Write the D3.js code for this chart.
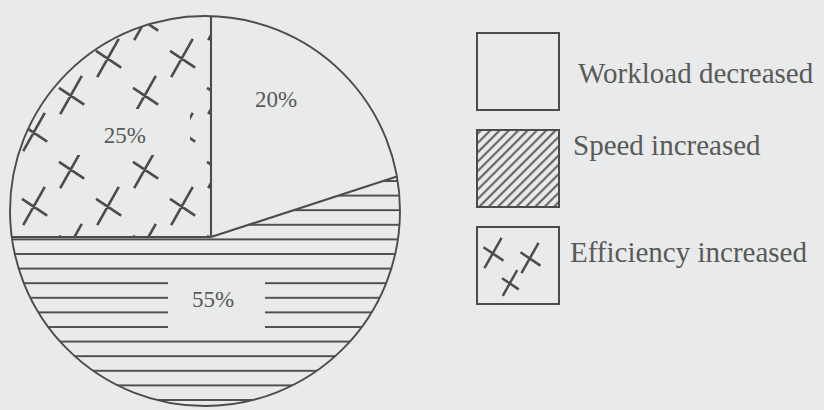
<!DOCTYPE html>
<html><head><meta charset="utf-8">
<script src="https://cdn.jsdelivr.net/npm/d3@7"></script>
<style>html,body{margin:0;padding:0;background:#e9eaec;} svg{display:block}</style>
</head><body><svg id="chart" width="824" height="410"></svg>
<script>
// ---- data ----
const categories = ["Workload decreased", "Speed increased", "Efficiency increased"];
const values = [20, 55, 25];
const valueLabels = ["20%", "55%", "25%"];
const fills = ["none", "url(#hlines)", "url(#crosses)"];
const legendFills = ["none", "url(#diag)", "crossbox"];

// ---- layout ----
const W = 824, H = 410;
const BG = "#e9eaec", INK = "#4a4d48", TXT = "#585a55";
const C = {x: 205, y: 211}, R = 195;        // outline circle
const V = {x: 211, y: 237};                 // slice vertex
const labelPos = [{a: 25.4, d: 152}, {a: 178, d: 63}, {a: 319.6, d: 133}];
const gaps = [null, {x: 168, y: 274, w: 97, h: 64}, {x: 62, y: 109, w: 128, h: 46}];
const legend = {x: 477, y0: 33, step: 97, w: 82, h: 77};
const legendText = [{x: 578, dy: 50}, {x: 573, dy: 25}, {x: 570, dy: 35}];

const svg = d3.select("#chart");
svg.append("rect").attr("width", W).attr("height", H).attr("fill", BG);
const defs = svg.append("defs");

// horizontal lines pattern
const ph = defs.append("pattern").attr("id", "hlines").attr("patternUnits", "userSpaceOnUse")
  .attr("x", 0).attr("y", 4.8).attr("width", 20).attr("height", 14.6);
ph.append("line").attr("x1", 0).attr("x2", 20).attr("y1", 1).attr("y2", 1)
  .attr("stroke", INK).attr("stroke-width", 1.9);

// diagonal pattern
const pd = defs.append("pattern").attr("id", "diag").attr("patternUnits", "userSpaceOnUse")
  .attr("width", 6.6).attr("height", 6.6).attr("patternTransform", "rotate(45)");
pd.append("line").attr("x1", 3.3).attr("x2", 3.3).attr("y1", 0).attr("y2", 6.6)
  .attr("stroke", INK).attr("stroke-width", 1.8);

function crossPath(cx, cy, s) {
  return `M${cx - 9 * s},${cy + 16 * s}L${cx + 9 * s},${cy - 16 * s}` +
         `M${cx - 10 * s},${cy - 6 * s}L${cx + 11 * s},${cy + 8 * s}`;
}
// crosses pattern (tile copies so crosses crossing tile edges stay whole)
const T = 74;
const pc = defs.append("pattern").attr("id", "crosses").attr("patternUnits", "userSpaceOnUse")
  .attr("x", 16).attr("y", 40).attr("width", T).attr("height", T);
let cp = "";
[[18, 18], [55, 55]].forEach(([x, y]) => {
  [-1, 0, 1].forEach(i => [-1, 0, 1].forEach(j => { cp += crossPath(x + i * T, y + j * T, 1.2); }));
});
pc.append("path").attr("d", cp).attr("stroke", INK).attr("stroke-width", 2.6).attr("fill", "none");

// ---- pie geometry ----
const arcs = d3.pie().sort(null).value(d => d)(values);

function rayHit(theta) {
  const dx = Math.sin(theta), dy = -Math.cos(theta);
  const wx = V.x - C.x, wy = V.y - C.y;
  const b = wx * dx + wy * dy, c = wx * wx + wy * wy - R * R;
  const t = -b + Math.sqrt(b * b - c);
  return [V.x + t * dx, V.y + t * dy];
}
function slicePath(a0, a1) {
  const p0 = rayHit(a0), p1 = rayHit(a1);
  const g0 = Math.atan2(p0[1] - C.y, p0[0] - C.x);
  let g1 = Math.atan2(p1[1] - C.y, p1[0] - C.x);
  while (g1 <= g0) g1 += 2 * Math.PI;
  const p = d3.path();
  p.moveTo(V.x, V.y); p.lineTo(p0[0], p0[1]);
  p.arc(C.x, C.y, R, g0, g1, false);
  p.closePath();
  return p.toString();
}

const gPie = svg.append("g");
arcs.forEach((a, i) => {
  const d = slicePath(a.startAngle, a.endAngle);
  if (fills[i] !== "none") {
    gPie.append("path").attr("d", d).attr("fill", fills[i]).attr("stroke", "none");
  }
  if (gaps[i]) {
    const cid = "clip" + i;
    defs.append("clipPath").attr("id", cid).append("path").attr("d", d);
    gPie.append("rect").attr("x", gaps[i].x).attr("y", gaps[i].y)
      .attr("width", gaps[i].w).attr("height", gaps[i].h)
      .attr("rx", 8).attr("fill", BG).attr("clip-path", `url(#${cid})`);
  }
});
gPie.append("circle").attr("cx", C.x).attr("cy", C.y).attr("r", R)
  .attr("fill", "none").attr("stroke", INK).attr("stroke-width", 1.9);
arcs.forEach(a => {
  const p0 = rayHit(a.startAngle);
  gPie.append("line").attr("x1", V.x).attr("y1", V.y).attr("x2", p0[0]).attr("y2", p0[1])
    .attr("stroke", INK).attr("stroke-width", 2.1);
});
arcs.forEach((a, i) => {
  const th = labelPos[i].a * Math.PI / 180;
  gPie.append("text")
    .attr("x", V.x + labelPos[i].d * Math.sin(th))
    .attr("y", V.y - labelPos[i].d * Math.cos(th))
    .attr("text-anchor", "middle").attr("dominant-baseline", "central")
    .attr("font-family", "'Liberation Serif', 'Times New Roman', serif")
    .attr("font-size", 23).attr("fill", TXT).text(valueLabels[i]);
});

// ---- legend ----
const gL = svg.append("g");
categories.forEach((cat, i) => {
  const y = legend.y0 + i * legend.step;
  if (legendFills[i] === "crossbox") {
    const cid = "lclip" + i;
    defs.append("clipPath").attr("id", cid).append("rect")
      .attr("x", legend.x).attr("y", y).attr("width", legend.w).attr("height", legend.h);
    gL.append("path")
      .attr("d", crossPath(legend.x + 16, y + 26, 0.95) + crossPath(legend.x + 53, y + 31, 0.95) +
                 crossPath(legend.x + 33, y + 56, 0.8))
      .attr("stroke", INK).attr("stroke-width", 2.5).attr("fill", "none")
      .attr("clip-path", `url(#${cid})`);
  } else if (legendFills[i] !== "none") {
    gL.append("rect").attr("x", legend.x).attr("y", y).attr("width", legend.w).attr("height", legend.h)
      .attr("fill", legendFills[i]);
  }
  gL.append("rect").attr("x", legend.x).attr("y", y).attr("width", legend.w).attr("height", legend.h)
    .attr("fill", "none").attr("stroke", INK).attr("stroke-width", 2);
  gL.append("text").attr("x", legendText[i].x).attr("y", y + legendText[i].dy)
    .attr("font-family", "'Liberation Serif', 'Times New Roman', serif")
    .attr("font-size", 29).attr("fill", TXT).text(cat);
});
</script></body></html>
